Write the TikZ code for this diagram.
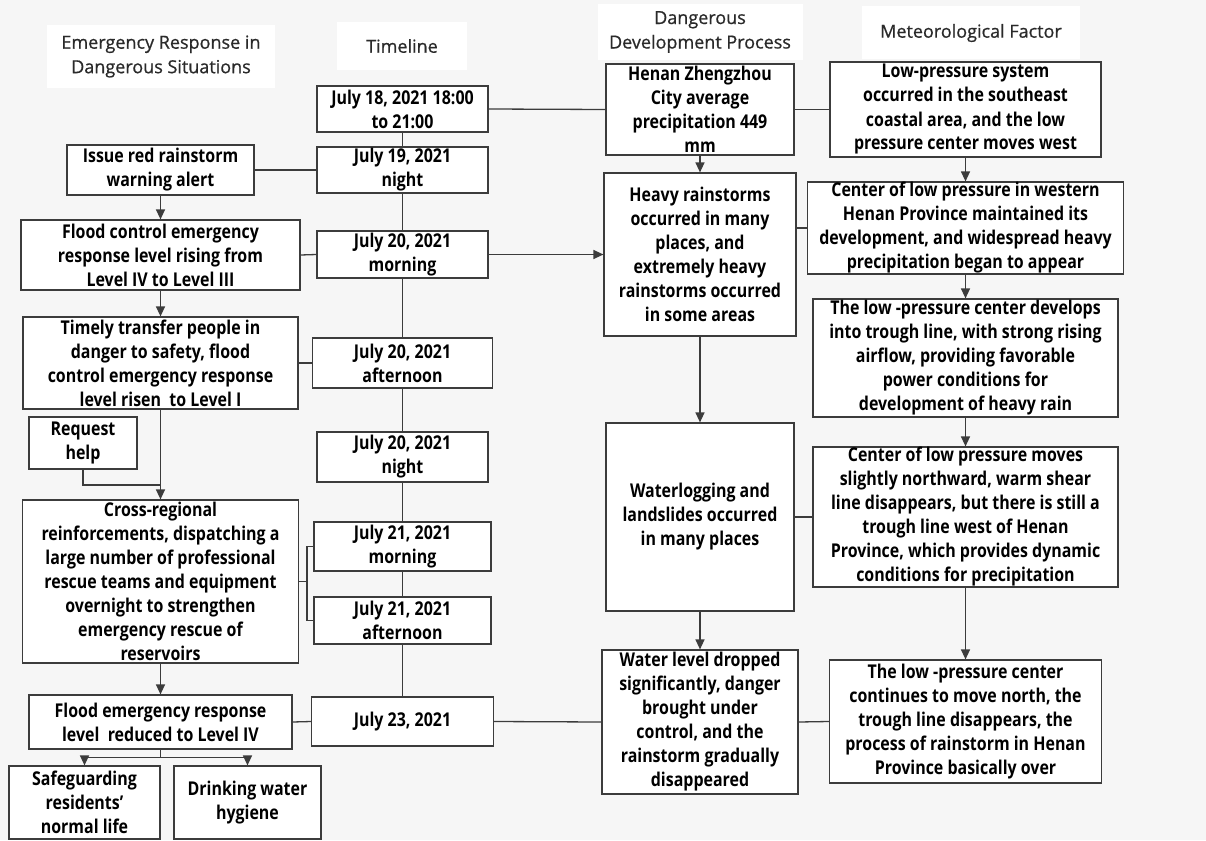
\documentclass[tikz,border=0pt]{standalone}
\usepackage{fontspec}
\setmainfont{Open Sans}[FakeStretch=0.84]
\newfontfamily\hdfont{Open Sans}[FakeBold=0.7]
\usetikzlibrary{arrows.meta}

\definecolor{bgc}{HTML}{F6F6F6}
\definecolor{lnc}{HTML}{3C3C3C}
\definecolor{hdc}{HTML}{2A2A2A}

\tikzset{
  box/.style={draw=lnc, line width=1.2pt, fill=white, align=center, inner sep=0pt,
    font=\fontsize{19}{24}\selectfont\bfseries, text=black},
  hdr/.style={fill=white, align=center, inner sep=0pt,
    font=\hdfont\fontsize{18}{24.5}\selectfont, text=hdc},
  ln/.style={draw=lnc, line width=1.3pt},
  arr/.style={ln, -{Triangle[length=10pt,width=9pt]}}
}

\begin{document}
\begin{tikzpicture}[x=1pt,y=-1pt]
\fill[bgc] (0,0) rectangle (1206,840);
\useasboundingbox (0,0) rectangle (1206,840);

% column heads
\node[hdr, minimum width=228, minimum height=63] (hdE) at (161,56.5) {Emergency Response in\\Dangerous Situations};
\node[hdr, minimum width=130, minimum height=48] (hdT) at (402,46) {Timeline};
\node[hdr, minimum width=205, minimum height=56] (hdD) at (700,32) {Dangerous\\Development Process};
\node[hdr, minimum width=218, minimum height=53] (hdM) at (971,33) {Meteorological Factor};

% timeline
\node[box, minimum width=171, minimum height=46] (t1) at (402.5,109) {July 18, 2021 18:00\\to 21:00};
\node[box, minimum width=171, minimum height=46] (t2) at (402.5,170) {July 19, 2021\\night};
\node[box, minimum width=171, minimum height=47] (t3) at (402.5,254.5) {July 20, 2021\\morning};
\node[box, minimum width=180, minimum height=50] (t4) at (402.5,363) {July 20, 2021\\afternoon};
\node[box, minimum width=171, minimum height=50] (t5) at (402.5,457) {July 20, 2021\\night};
\node[box, minimum width=177, minimum height=49] (t6) at (402.5,546.5) {July 21, 2021\\morning};
\node[box, minimum width=177, minimum height=47] (t7) at (402.5,620.5) {July 21, 2021\\afternoon};
\node[box, minimum width=182, minimum height=49] (t8) at (402.5,721.5) {July 23, 2021};

% emergency response
\node[box, minimum width=187, minimum height=50] (e1) at (160.5,170) {Issue red rainstorm\\warning alert};
\node[box, minimum width=279, minimum height=70] (e2) at (160.5,255) {Flood control emergency\\response level rising from\\Level IV to Level III};
\node[box, minimum width=275, minimum height=92] (e3) at (160.5,363) {Timely transfer people in\\danger to safety, flood\\control emergency response\\level risen\ \ to Level I};
\node[box, minimum width=108, minimum height=52] (rh) at (83,443) {Request\\help};
\node[box, minimum width=276, minimum height=163] (e4) at (160.5,581.5) {Cross-regional\\reinforcements, dispatching a\\large number of professional\\rescue teams and equipment\\overnight to strengthen\\emergency rescue of\\reservoirs};
\node[box, minimum width=263, minimum height=54] (e5) at (160.5,722) {Flood emergency response\\level\ \ reduced to Level IV};
\node[box, minimum width=151, minimum height=73] (s1) at (84.5,802.5) {Safeguarding\\residents'\\normal life};
\node[box, minimum width=147, minimum height=73] (s2) at (247.5,802.5) {Drinking water\\hygiene};

% development process
\node[box, minimum width=188, minimum height=91] (d1) at (700,109.5) {Henan Zhengzhou\\City average\\precipitation 449\\mm};
\node[box, minimum width=192, minimum height=163] (d2) at (700,254.5) {Heavy rainstorms\\occurred in many\\places, and\\extremely heavy\\rainstorms occurred\\in some areas};
\node[box, minimum width=188, minimum height=188] (d3) at (700,517) {Waterlogging and\\landslides occurred\\in many places};
\node[box, minimum width=196, minimum height=144] (d4) at (700,722) {Water level dropped\\significantly, danger\\brought under\\control, and the\\rainstorm gradually\\disappeared};

% meteorological factor
\node[box, minimum width=271, minimum height=95] (m1) at (965.5,109.5) {Low-pressure system\\occurred in the southeast\\coastal area, and the low\\pressure center moves west};
\node[box, minimum width=316, minimum height=92] (m2) at (965.5,228) {Center of low pressure in western\\Henan Province maintained its\\development, and widespread heavy\\precipitation began to appear};
\node[box, minimum width=305, minimum height=118] (m3) at (965.5,358) {The low -pressure center develops\\into trough line, with strong rising\\airflow, providing favorable\\power conditions for\\development of heavy rain};
\node[box, minimum width=305, minimum height=140] (m4) at (965.5,517) {Center of low pressure moves\\slightly northward, warm shear\\line disappears, but there is still a\\trough line west of Henan\\Province, which provides dynamic\\conditions for precipitation};
\node[box, minimum width=272, minimum height=123] (m5) at (965.5,721.5) {The low -pressure center\\continues to move north, the\\trough line disappears, the\\process of rainstorm in Henan\\Province basically over};

% timeline spine
\foreach \a/\b in {t1/t2,t2/t3,t3/t4,t4/t5,t5/t6,t6/t7,t7/t8}
  \draw[ln] (\a.south) -- (\b.north);

% links across columns
\draw[ln] (e1.east) -- (t2.west);
\draw[ln] (e2.east) -- (t3.west);
\draw[ln] (e3.east) -- (t4.west);
\draw[ln] (e5.east) -- (t8.west);
\draw[ln] (t1.east) -- (d1.west);
\draw[ln] (t8.east) -- (d4.west);
\draw[arr] (t3.east) -- (d2.west);
\draw[ln] (d1.east) -- (m1.west);
\draw[ln] (m2.west) -- (m2.west -| d2.east);
\draw[ln] (d3.east) -- (m4.west);
\draw[ln] (d4.east) -- (m5.west);
\draw[ln] (e4.east) -- ++(8,0) coordinate (brk);
\draw[ln] (t6.west) -| (brk) |- (t7.west);

% arrows down each column
\foreach \a/\b in {e1/e2,e2/e3,e3/e4,e4/e5,d1/d2,d2/d3,d3/d4,m1/m2,m2/m3,m3/m4,m4/m5}
  \draw[arr] (\a.south) -- (\b.north);

\coordinate (jn) at (160.5,485);
\draw[ln] (rh.south) |- (jn);
\draw[ln] (e5.south) -- ++(0,8) coordinate (sp);
\draw[arr] (sp) -| (s1.north);
\draw[arr] (sp) -| (s2.north);
\end{tikzpicture}
\end{document}
